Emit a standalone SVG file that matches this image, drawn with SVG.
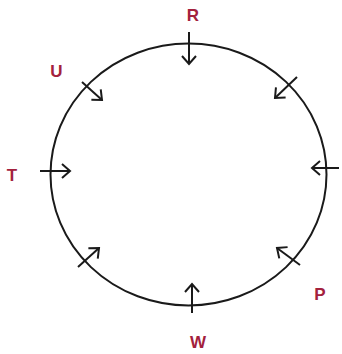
<svg xmlns="http://www.w3.org/2000/svg" width="342" height="354" viewBox="0 0 342 354">
<style>
.ring{fill:none;stroke:#1a1a1a;stroke-width:2}
.edge{fill:none;stroke:#1a1a1a;stroke-width:2;marker-end:url(#chev)}
.lbl{font-family:"Liberation Sans",Arial,sans-serif;font-weight:bold;font-size:17px;fill:#a3213d;text-anchor:middle}
</style>
<defs>
<marker id="chev" markerUnits="userSpaceOnUse" markerWidth="20" markerHeight="20" refX="0" refY="0" viewBox="-10 -10 20 20" orient="auto" overflow="visible">
<path d="M-8,-7 L0,0 L-8,7" fill="none" stroke="#1a1a1a" stroke-width="2"/>
</marker>
</defs>
<g id="ring"><ellipse class="ring" cx="188.5" cy="174.5" rx="138" ry="131"/></g>
<g id="connectors">
<line class="edge" x1="189" y1="32" x2="189" y2="64"/>
<line class="edge" x1="82" y1="82" x2="102" y2="100"/>
<line class="edge" x1="40" y1="171" x2="70" y2="171"/>
<line class="edge" x1="78" y1="267" x2="99" y2="248"/>
<line class="edge" x1="192" y1="313" x2="192" y2="284"/>
<line class="edge" x1="300" y1="265" x2="277" y2="248"/>
<line class="edge" x1="339" y1="168" x2="312" y2="168"/>
<line class="edge" x1="297" y1="77" x2="275" y2="98"/>
</g>
<g id="R"><text class="lbl" x="193" y="21">R</text></g>
<g id="U"><text class="lbl" x="56.5" y="77">U</text></g>
<g id="T"><text class="lbl" x="12" y="181">T</text></g>
<g id="W"><text class="lbl" x="198" y="348">W</text></g>
<g id="P"><text class="lbl" x="320" y="300">P</text></g>
</svg>
